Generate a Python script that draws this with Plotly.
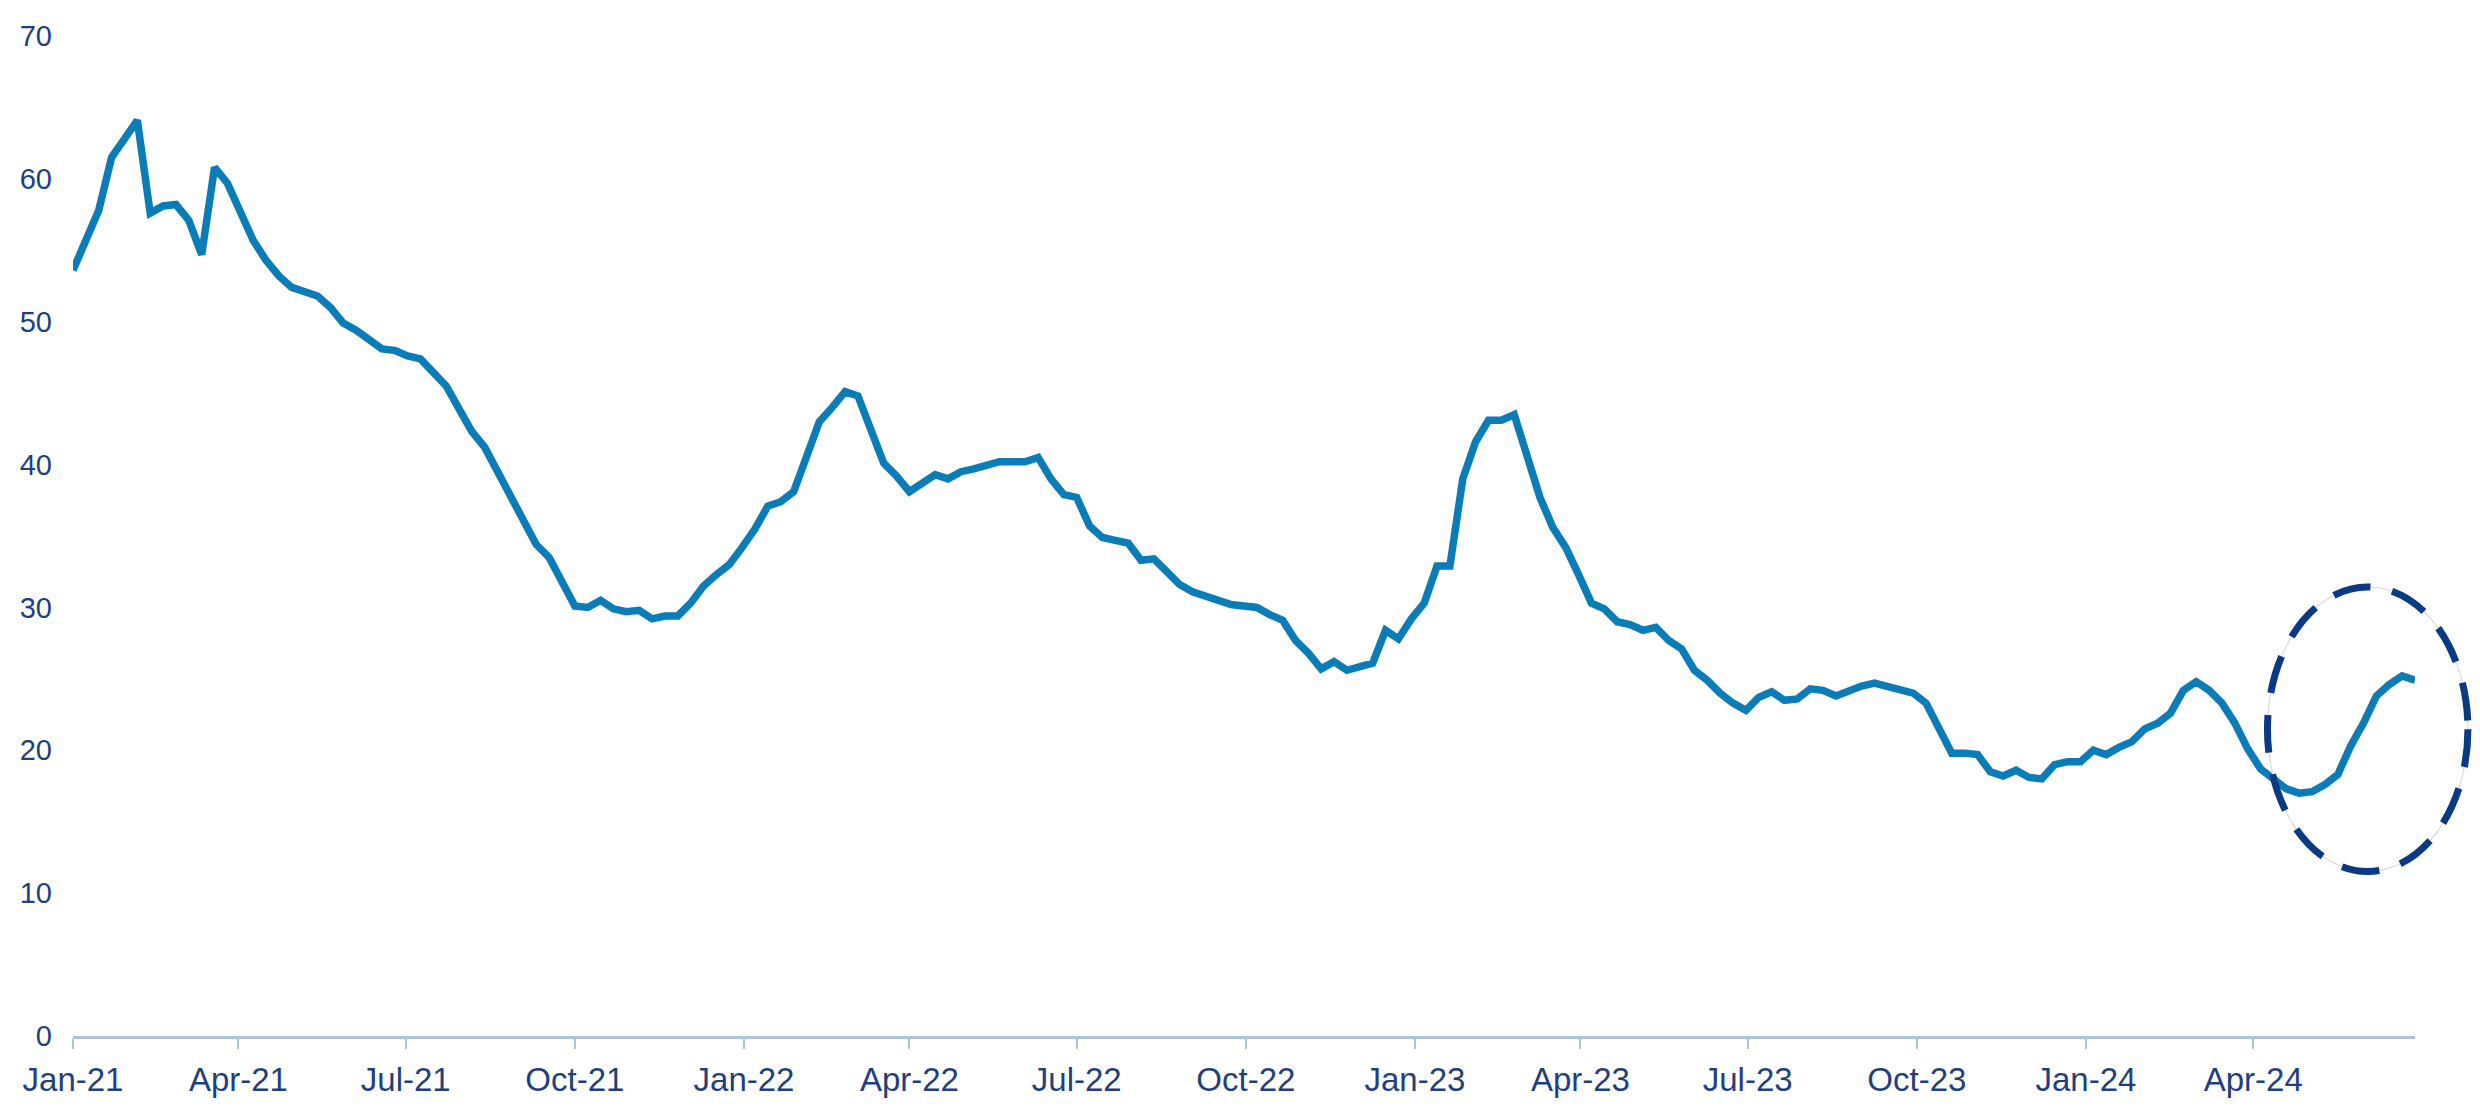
import pandas as pd
import plotly.graph_objects as go

start_date = "2021-01-01"
values = [
    53.6, 55.7, 57.8, 61.5, 62.8, 64.1, 57.6, 58.1, 58.2, 57.1,
    54.7, 60.8, 59.7, 57.8, 55.7, 54.3, 53.2, 52.4, 52.1, 51.8,
    51.0, 49.9, 49.4, 48.8, 48.1, 48.0, 47.6, 47.4, 46.4, 45.5,
    43.9, 42.3, 41.2, 39.5, 37.9, 36.3, 34.4, 33.5, 31.9, 30.1,
    30.0, 30.5, 29.9, 29.7, 29.8, 29.2, 29.4, 29.4, 30.3, 31.5,
    32.3, 33.0, 34.2, 35.5, 37.1, 37.4, 38.1, 40.4, 43.0, 44.0,
    45.1, 44.8, 42.3, 40.1, 39.2, 38.1, 38.7, 39.3, 39.0, 39.5,
    39.7, 40.0, 40.2, 40.2, 40.2, 40.5, 39.0, 37.9, 37.7, 35.7,
    34.9, 34.7, 34.5, 33.3, 33.4, 32.5, 31.6, 31.1, 30.8, 30.4,
    30.2, 30.1, 30.0, 29.5, 29.1, 27.7, 26.8, 25.7, 26.2, 25.6,
    25.8, 26.1, 28.4, 27.8, 29.2, 30.3, 32.9, 32.9, 39.0, 41.6,
    43.1, 43.1, 43.5, 40.4, 37.7, 35.6, 34.2, 32.3, 30.3, 29.9,
    29.0, 28.8, 28.4, 28.6, 27.7, 27.1, 25.6, 24.9, 24.0, 23.3,
    22.8, 23.7, 24.1, 23.5, 23.6, 24.3, 24.2, 23.8, 24.2, 24.5,
    24.7, 24.5, 24.3, 24.0, 23.3, 21.5, 19.8, 19.8, 19.7, 18.5,
    18.2, 18.6, 18.1, 18.0, 19.0, 19.2, 19.2, 20.0, 19.7, 20.2,
    20.6, 21.5, 21.9, 22.6, 24.2, 24.8, 24.2, 23.3, 21.9, 20.1,
    18.7, 18.0, 17.3, 17.0, 17.1, 17.6, 18.3, 20.3, 21.9, 23.8,
    24.6, 25.2, 24.9,
]
dates = pd.date_range(start_date, periods=len(values), freq="7D")

y_ticks = [0, 10, 20, 30, 40, 50, 60, 70]

LINE = "#0A7CB8"
TEXT = "#1F3F7F"
AXIS = "#AFC2DC"
NAVY = "#0B3A84"
FONT = "Liberation Sans, Arial, sans-serif"

fig = go.Figure()
fig.add_trace(go.Scatter(
    x=dates, y=values, mode="lines",
    line=dict(color=LINE, width=7.5),
    hoverinfo="skip", showlegend=False,
))

# highlight ellipse around the latest rebound (paper coordinates)
ell = dict(type="circle", xref="paper", yref="paper",
           x0=0.937, x1=1.0226, y0=0.1645, y1=0.449)
fig.add_shape(**ell, line=dict(color="#DADADA", width=1.2))
fig.add_shape(**ell, line=dict(color=NAVY, width=7, dash="38px,22px"))

fig.update_layout(
    width=2480, height=1112,
    margin=dict(l=58, r=73, t=19, b=84),
    paper_bgcolor="white", plot_bgcolor="white",
    font=dict(family=FONT, size=28, color=TEXT),
    showlegend=False,
)
fig.update_xaxes(
    type="date",
    range=[dates[0], dates[-1]],
    tick0=start_date, dtick="M3", tickformat="%b-%y",
    ticks="outside", ticklen=10, tickwidth=2, tickcolor=AXIS,
    showline=True, linecolor=AXIS, linewidth=3,
    showgrid=False, zeroline=False,
    ticklabelstandoff=2,
    tickfont=dict(family=FONT, size=33, color=TEXT),
)
fig.update_yaxes(
    range=[0, 70], tickvals=y_ticks,
    ticks="", showline=False, showgrid=False, zeroline=False,
    ticklabelstandoff=20,
    tickfont=dict(family=FONT, size=29, color=TEXT),
)

fig.write_html("out.html")
